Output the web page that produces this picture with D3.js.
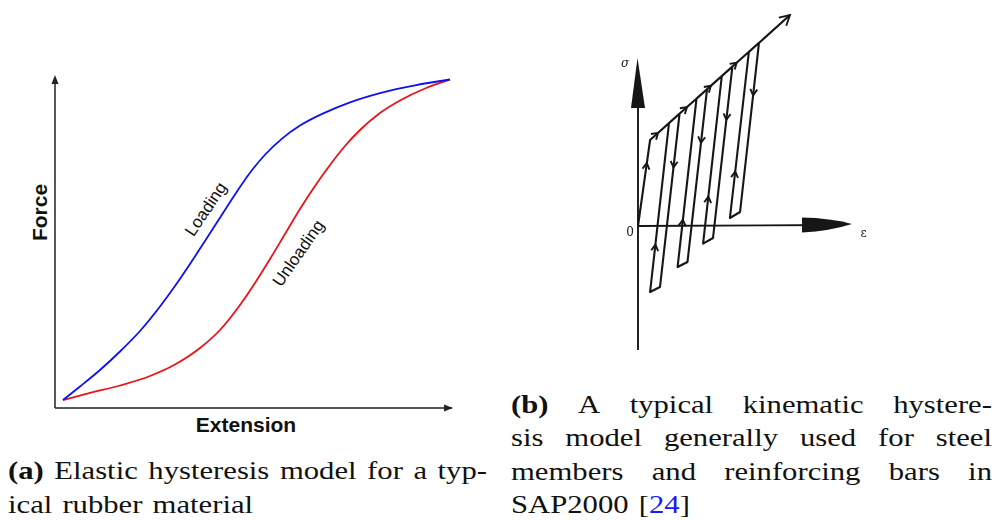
<!DOCTYPE html>
<html>
<head>
<meta charset="utf-8">
<script src="https://cdn.jsdelivr.net/npm/d3@7"></script>
<style>
  html, body { margin: 0; padding: 0; background: #fff; }
  svg { display: block; }
</style>
</head>
<body>
<svg id="fig" width="995" height="520"></svg>
<script>
// ---------- (a) elastic hysteresis of rubber: extension vs force (arbitrary units) ----------
const loadingExt     = [2.0, 6.25, 11.25, 16.25, 21.25, 26.25, 30.0, 33.75, 37.5, 41.25, 45.0, 48.75, 52.5, 56.75, 61.25, 67.5, 73.75, 81.25, 90.0, 98.75];
const loadingForce   = [2.42, 6.52, 11.52, 17.12, 23.33, 30.76, 36.97, 43.64, 50.61, 57.65, 64.70, 71.29, 76.74, 81.64, 85.58, 89.52, 92.64, 95.45, 97.79, 99.55];
const unloadingExt   = [2.0, 8.75, 16.25, 23.75, 30.0, 36.25, 41.25, 46.25, 50.0, 53.75, 57.5, 61.25, 65.0, 68.75, 72.5, 76.25, 81.25, 86.25, 92.5, 98.75];
const unloadingForce = [2.42, 4.55, 6.82, 9.70, 13.18, 18.18, 23.64, 31.21, 37.88, 45.15, 52.73, 60.30, 67.27, 73.64, 79.39, 84.24, 89.39, 93.18, 96.82, 99.48];
const curveLabels    = ["Loading", "Unloading"];
const axisTitlesA    = ["Extension", "Force"];

// ---------- (b) kinematic hysteresis: strain / stress path vertices ----------
// origin, yield, then per cycle: unload start, compression start, compression end, reload rejoin; then end of backbone
const pathStrain = [0, 0.55, 1.89, 1.00, 0.55, 1.41, 3.14, 2.25, 1.80, 2.66, 4.29, 3.41, 2.96, 3.81, 5.50, 4.64, 4.18, 5.04, 6.91];
const pathStress = [0, 4.30, 5.62, -3.05, -3.30, 5.15, 6.84, -1.80, -2.05, 6.37, 7.97, -0.60, -0.88, 7.50, 9.16, 0.70, 0.40, 8.70, 10.55];
const strainRange = [0, 9.73];
const stressRange = [-6.2, 8.4];
const axisLabelsB = ["σ", "0", "ε"];

// ---------- captions ----------
const captionA = ["(a) Elastic hysteresis model for a typ-", "ical rubber material"];
const captionB = ["(b) A typical kinematic hystere-", "sis model generally used for steel",
                  "members and reinforcing bars in", "SAP2000 [24]"];

const svg = d3.select("#fig");

// ================= panel (a) =================
const xA = d3.scaleLinear().domain([0, 100]).range([55, 455]);
const yA = d3.scaleLinear().domain([0, 100]).range([408, 78]);
const gA = svg.append("g");
const axisCol = "#222";

// axes with small filled arrowheads
gA.append("line").attr("x1", xA(0)).attr("y1", yA(0)).attr("x2", 452).attr("y2", yA(0))
  .attr("stroke", axisCol).attr("stroke-width", 1.5);
gA.append("line").attr("x1", xA(0)).attr("y1", yA(0)).attr("x2", xA(0)).attr("y2", 78)
  .attr("stroke", axisCol).attr("stroke-width", 1.5);
gA.append("path").attr("d", `M453,${yA(0)} L444,${yA(0) - 3.5} L444,${yA(0) + 3.5} Z`).attr("fill", axisCol);
gA.append("path").attr("d", `M${xA(0)},75 L${xA(0) - 3.5},84 L${xA(0) + 3.5},84 Z`).attr("fill", axisCol);

const lineA = d3.line().x(d => xA(d[0])).y(d => yA(d[1])).curve(d3.curveMonotoneX);
gA.append("path").datum(d3.zip(unloadingExt, unloadingForce)).attr("d", lineA)
  .attr("fill", "none").attr("stroke", "#e8141a").attr("stroke-width", 1.8);
gA.append("path").datum(d3.zip(loadingExt, loadingForce)).attr("d", lineA)
  .attr("fill", "none").attr("stroke", "#1010f0").attr("stroke-width", 1.8);

// curve labels along the steep parts
[[curveLabels[0], 205.5, 209, -56], [curveLabels[1], 298, 253, -55]].forEach(([t, x, y, r]) => {
  gA.append("text").attr("transform", `translate(${x},${y}) rotate(${r})`)
    .attr("text-anchor", "middle").attr("dy", "0.35em")
    .attr("font-family", "Liberation Sans, Arial, sans-serif").attr("font-size", 17)
    .attr("fill", "#111").text(t);
});

gA.append("text").attr("x", 246).attr("y", 431.5).attr("text-anchor", "middle")
  .attr("font-family", "Liberation Sans, Arial, sans-serif").attr("font-size", 21)
  .attr("font-weight", "bold").attr("fill", "#111").text(axisTitlesA[0]);
gA.append("text").attr("transform", "translate(46.5,212.5) rotate(-90)").attr("text-anchor", "middle")
  .attr("font-family", "Liberation Sans, Arial, sans-serif").attr("font-size", 21)
  .attr("font-weight", "bold").attr("fill", "#111").text(axisTitlesA[1]);

// ================= panel (b) =================
const xB = d3.scaleLinear().domain(strainRange).range([638, 852]);
const yB = d3.scaleLinear().domain(stressRange).range([350, 58]);
const ink = "#151515";

const defs = svg.append("defs");
defs.append("filter").attr("id", "soft").append("feGaussianBlur").attr("stdDeviation", 0.45);
const gB = svg.append("g").attr("filter", "url(#soft)");

// axes: thin shafts with heavy solid arrowheads
const ox = xB(0), oy = yB(0);
gB.append("line").attr("x1", ox).attr("y1", yB(stressRange[0])).attr("x2", ox).attr("y2", yB(stressRange[1]) + 10)
  .attr("stroke", ink).attr("stroke-width", 1.9);
gB.append("path").attr("d", `M${ox - 0.5},${yB(stressRange[1])} L${ox - 7},108 L${ox + 7},108 Z`).attr("fill", ink);
gB.append("line").attr("x1", ox).attr("y1", oy).attr("x2", xB(strainRange[1]) - 10).attr("y2", oy - 1)
  .attr("stroke", ink).attr("stroke-width", 1.9);
gB.append("path")
  .attr("d", `M${xB(strainRange[1])},${oy - 2} Q830,${oy - 8} 802,${oy - 8.5} L802,${oy + 6.5} Q830,${oy + 5} ${xB(strainRange[1])},${oy - 2} Z`)
  .attr("fill", ink);

const pts = d3.zip(pathStrain, pathStress).map(([e, s]) => [xB(e), yB(s)]);
gB.append("path").datum(d3.zip(pathStrain, pathStress))
  .attr("d", d3.line().x(d => xB(d[0])).y(d => yB(d[1])))
  .attr("fill", "none").attr("stroke", ink).attr("stroke-width", 2.1).attr("stroke-linejoin", "round");

// open chevrons showing the direction of travel
function chevron(p, q, t, len, half) {
  const dx = q[0] - p[0], dy = q[1] - p[1], L = Math.hypot(dx, dy);
  const ux = dx / L, uy = dy / L, nx = -uy, ny = ux;
  const tx = p[0] + dx * t, ty = p[1] + dy * t;
  gB.append("path")
    .attr("d", `M${tx - ux * len + nx * half},${ty - uy * len + ny * half} L${tx},${ty} L${tx - ux * len - nx * half},${ty - uy * len - ny * half}`)
    .attr("fill", "none").attr("stroke", ink).attr("stroke-width", 1.9).attr("stroke-linejoin", "miter");
}
const backboneAt = [0.27, 0.47, 0.4, 0.4];
chevron(pts[0], pts[1], 0.73, 6, 3.5);
for (let c = 0; c < 4; c++) {
  const b = 1 + c * 4;
  chevron(pts[b], pts[b + 1], backboneAt[c], 6, 3.8);       // along backbone
  chevron(pts[b + 1], pts[b + 2], 0.31, 6, 3.5);            // unloading
  chevron(pts[b + 3], pts[b + 4], 0.28, 6, 3.5);            // reloading
}
const n = pts.length;
chevron(pts[n - 2], pts[n - 1], 1.0, 10, 5.5);

const lblFont = "DejaVu Serif, Liberation Serif, serif";
gB.append("text").attr("x", 625).attr("y", 67).attr("text-anchor", "middle")
  .attr("font-family", lblFont).attr("font-style", "italic").attr("font-size", 12).attr("fill", ink).text(axisLabelsB[0]);
gB.append("text").attr("x", 630).attr("y", 236).attr("text-anchor", "middle")
  .attr("font-family", lblFont).attr("font-size", 12).attr("fill", ink).text(axisLabelsB[1]);
gB.append("text").attr("x", 863.5).attr("y", 237).attr("text-anchor", "middle")
  .attr("font-family", lblFont).attr("font-size", 12).attr("fill", ink).text(axisLabelsB[2]);

// ================= captions (justified, wide serif text) =================
const capFont = "Liberation Serif, Times New Roman, serif";
const capSize = 26;
const capStretch = 1.18;
const gC = svg.append("g").attr("font-family", capFont).attr("font-size", capSize).attr("fill", "#111");

function addWord(y, w, bold) {
  const g = gC.append("g");
  const t = g.append("text").attr("x", 0).attr("y", 0);
  if (bold) t.attr("font-weight", "bold");
  const m = w.match(/^\[(\d+)\]$/);
  if (m) {
    t.append("tspan").text("[");
    t.append("tspan").attr("fill", "#1a1aff").text(m[1]);
    t.append("tspan").text("]");
  } else {
    t.text(w);
  }
  return { g, y, w: t.node().getComputedTextLength() * capStretch };
}
function setLine(text, x0, x1, y, justify) {
  const words = text.split(" ").map(w => addWord(y, w, /^\([ab]\)$/.test(w)));
  const total = d3.sum(words, d => d.w);
  const gap = justify && words.length > 1 ? (x1 - x0 - total) / (words.length - 1) : capSize * 0.33 * capStretch;
  let x = x0;
  words.forEach(d => {
    d.g.attr("transform", `translate(${x},${d.y}) scale(${capStretch},1)`);
    x += d.w + gap;
  });
}
captionA.forEach((l, i) => setLine(l, 8, 487, 479 + i * 33.5, i < captionA.length - 1));
captionB.forEach((l, i) => setLine(l, 511, 992, 412.5 + i * 33.5, i < captionB.length - 1));
</script>
</body>
</html>
